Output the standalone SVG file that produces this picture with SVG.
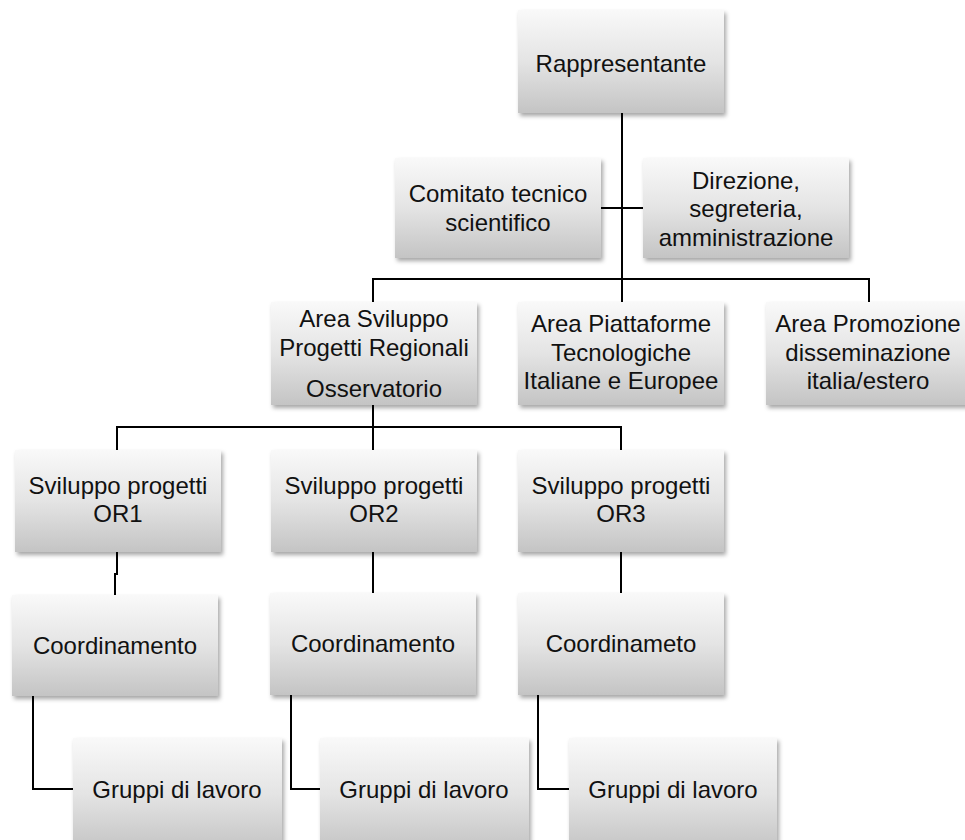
<svg xmlns="http://www.w3.org/2000/svg" width="965" height="840" viewBox="0 0 965 840">
<defs>
<linearGradient id="g" x1="0" y1="0" x2="0" y2="1">
<stop offset="0" stop-color="#f9f9f9"/>
<stop offset="0.5" stop-color="#e4e4e4"/>
<stop offset="1" stop-color="#c4c4c4"/>
</linearGradient>
<filter id="sh" x="-10%" y="-10%" width="125%" height="130%">
<feDropShadow dx="2" dy="3" stdDeviation="2" flood-color="#000" flood-opacity="0.35"/>
</filter>
</defs>
<style>
.box{fill:url(#g);filter:url(#sh);}
text{font-family:"Liberation Sans",Arial,sans-serif;font-size:24px;fill:#111;text-anchor:middle;dominant-baseline:central;}
.c{fill:none;stroke:#000;stroke-width:2;}
</style>
<rect width="965" height="840" fill="#fff"/>
<g id="connectors">
<path class="c" d="M622,113 V302"/>
<path class="c" d="M601,208 H643"/>
<path class="c" d="M373,302 V279 H869 V302"/>
<path class="c" d="M373,405 V450"/>
<path class="c" d="M117,450 V427 H621 V450"/>
<path class="c" d="M117,552 V574 H115 V595"/>
<path class="c" d="M373,552 V593"/>
<path class="c" d="M621,552 V593"/>
<path class="c" d="M33,696 V789 H73"/>
<path class="c" d="M291,695 V789 H320"/>
<path class="c" d="M538,695 V789 H569"/>
</g>
<g id="rappresentante"><rect class="box" x="518" y="10" width="206" height="103"/><text x="621" y="63">Rappresentante</text></g>
<g id="comitato"><rect class="box" x="395" y="158" width="206" height="100"/><text x="498" y="193">Comitato tecnico</text><text x="498" y="222">scientifico</text></g>
<g id="direzione"><rect class="box" x="643" y="158" width="206" height="100"/><text x="746" y="180">Direzione,</text><text x="746" y="208">segreteria,</text><text x="746" y="237">amministrazione</text></g>
<g id="area-sviluppo"><rect class="box" x="271" y="302" width="206" height="103"/><text x="374" y="318">Area Sviluppo</text><text x="374" y="347">Progetti Regionali</text><text x="374" y="388">Osservatorio</text></g>
<g id="area-piattaforme"><rect class="box" x="518" y="302" width="206" height="103"/><text x="621" y="323">Area Piattaforme</text><text x="621" y="352">Tecnologiche</text><text x="621" y="380">Italiane e Europee</text></g>
<g id="area-promozione"><rect class="box" x="766" y="302" width="206" height="103"/><text x="868" y="323">Area Promozione</text><text x="868" y="352">disseminazione</text><text x="868" y="380">italia/estero</text></g>
<g id="or1"><rect class="box" x="15" y="450" width="206" height="102"/><text x="118" y="485">Sviluppo progetti</text><text x="118" y="513">OR1</text></g>
<g id="or2"><rect class="box" x="271" y="450" width="206" height="102"/><text x="374" y="485">Sviluppo progetti</text><text x="374" y="513">OR2</text></g>
<g id="or3"><rect class="box" x="518" y="450" width="206" height="102"/><text x="621" y="485">Sviluppo progetti</text><text x="621" y="513">OR3</text></g>
<g id="coord1"><rect class="box" x="12" y="595" width="206" height="101"/><text x="115" y="645">Coordinamento</text></g>
<g id="coord2"><rect class="box" x="270" y="593" width="206" height="102"/><text x="373" y="643">Coordinamento</text></g>
<g id="coord3"><rect class="box" x="518" y="593" width="206" height="102"/><text x="621" y="643">Coordinameto</text></g>
<g id="gruppi1"><rect class="box" x="73" y="738" width="209" height="112"/><text x="177" y="789">Gruppi di lavoro</text></g>
<g id="gruppi2"><rect class="box" x="320" y="738" width="209" height="112"/><text x="424" y="789">Gruppi di lavoro</text></g>
<g id="gruppi3"><rect class="box" x="569" y="738" width="208" height="112"/><text x="673" y="789">Gruppi di lavoro</text></g>
</svg>
